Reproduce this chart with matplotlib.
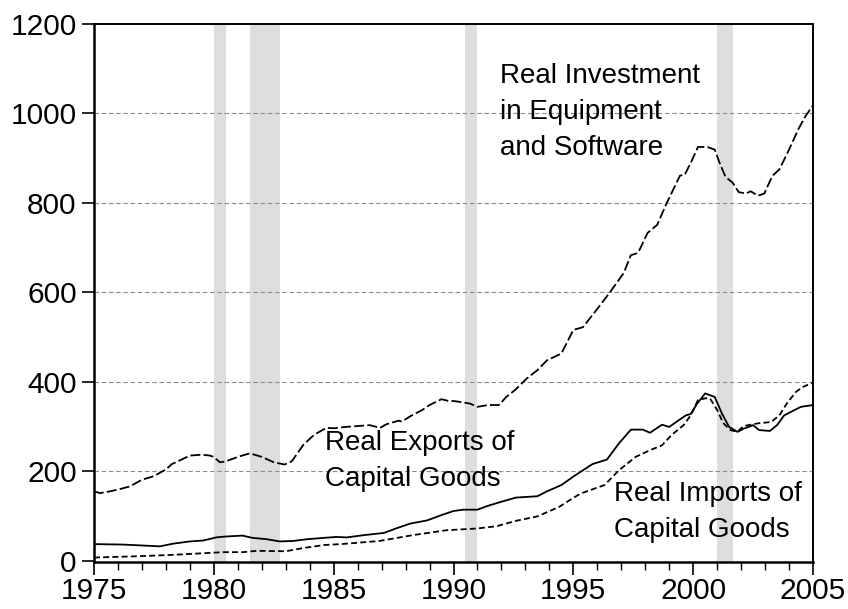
import numpy as np
import matplotlib
matplotlib.use('Agg')
import matplotlib.pyplot as plt

# ============================================================
# 数据 (从图中读取, 单位: 十亿美元)
# ============================================================
inv_year = [1975.0, 1975.25, 1975.67, 1976.0, 1976.5, 1977.0, 1977.5, 1978.0, 1978.25,
            1978.5, 1979.0, 1979.5, 1979.83, 1980.0, 1980.25, 1980.5, 1981.0, 1981.5,
            1982.0, 1982.5, 1982.95, 1983.25, 1983.75, 1984.2, 1984.7, 1985.0, 1985.5,
            1986.0, 1986.5, 1986.94, 1987.2, 1987.7, 1987.85, 1988.2, 1988.7, 1989.0,
            1989.5, 1989.8, 1990.0, 1990.4, 1990.7, 1991.0, 1991.45, 1991.9, 1992.2,
            1992.6, 1993.05, 1993.5, 1993.9, 1994.5, 1995.0, 1995.4, 1995.97, 1996.5,
            1997.1, 1997.4, 1997.7, 1998.1, 1998.5, 1998.9, 1999.45, 1999.65, 1999.93,
            2000.2, 2000.6, 2000.9, 2001.1, 2001.35, 2001.65, 2001.9, 2002.2, 2002.4,
            2002.7, 2002.97, 2003.3, 2003.6, 2004.0, 2004.4, 2004.7, 2005.0]
inv_val = [155, 151, 155, 159, 166, 181, 189, 204, 216,
           222, 235, 237, 235, 232, 220, 222, 232, 240,
           232, 220, 215, 222, 260, 282, 297, 296, 299,
           301, 303, 297, 305, 313, 311, 323, 337, 348,
           361, 357, 357, 354, 351, 344, 348, 348, 366,
           383, 407, 426, 448, 463, 516, 522, 561, 598,
           643, 683, 688, 733, 751, 800, 861, 863, 893,
           925, 925, 919, 890, 858, 845, 824, 821, 826,
           816, 821, 860, 875, 919, 966, 995, 1018]

exp_year = [1975.0, 1976.2, 1977.75, 1978.3, 1979.0, 1979.55, 1980.1, 1980.5, 1981.2,
            1981.6, 1982.2, 1982.76, 1983.3, 1983.9, 1984.6, 1985.1, 1985.55, 1986.25,
            1987.1, 1987.6, 1988.2, 1988.9, 1989.45, 1990.0, 1990.4, 1991.0, 1991.4,
            1991.95, 1992.6, 1993.5, 1993.9, 1994.5, 1995.0, 1995.4, 1995.8, 1996.4,
            1996.9, 1997.4, 1997.9, 1998.2, 1998.7, 1999.0, 1999.45, 1999.7, 1999.9,
            2000.15, 2000.5, 2000.9, 2001.2, 2001.5, 2001.85, 2002.1, 2002.5, 2002.75,
            2003.2, 2003.5, 2003.8, 2004.2, 2004.5, 2005.0]
exp_val = [37, 36, 32, 38, 43, 45, 52, 54, 56,
           51, 48, 43, 44, 48, 51, 53, 52, 57,
           62, 72, 83, 90, 101, 111, 114, 114, 122,
           131, 141, 144, 155, 169, 188, 202, 216, 226,
           262, 293, 293, 286, 304, 299, 316, 325, 328,
           350, 374, 366, 329, 299, 288, 295, 303, 292,
           290, 303, 325, 336, 344, 348]

imp_year = [1975.0, 1976.9, 1978.3, 1979.7, 1980.4, 1981.2, 1981.8, 1983.0, 1983.7,
            1984.6, 1985.3, 1986.9, 1988.3, 1989.7, 1991.0, 1991.8, 1992.6, 1993.5,
            1994.4, 1994.9, 1995.3, 1996.3, 1996.9, 1997.6, 1998.2, 1998.7, 1999.1,
            1999.6, 1999.9, 2000.2, 2000.5, 2000.7, 2001.0, 2001.25, 2001.55, 2001.85,
            2002.1, 2002.7, 2003.25, 2003.6, 2003.9, 2004.3, 2004.6, 2005.0]
imp_val = [7, 10, 13, 17, 19, 19, 22, 21, 28,
           35, 37, 44, 57, 68, 72, 77, 89, 99,
           120, 137, 150, 169, 202, 232, 247, 258, 281,
           303, 325, 359, 363, 363, 337, 308, 292, 288,
           301, 307, 310, 325, 351, 378, 389, 398]

# 衰退期 (阴影)
rec_start = [1980.0, 1981.5, 1990.5, 2001.0]
rec_end   = [1980.5, 1982.75, 1991.0, 2001.65]

y_ticks = [0, 200, 400, 600, 800, 1000, 1200]
x_ticks = [1975, 1980, 1985, 1990, 1995, 2000, 2005]

# ============================================================
# 绘图
# ============================================================
plt.rcParams['font.family'] = ['Liberation Sans', 'DejaVu Sans']
fig = plt.figure(figsize=(8.48, 6.09), dpi=100)
ax = fig.add_axes([94/848, 1 - 562/609, (813 - 94)/848, (562 - 24)/609])

for s, e in zip(rec_start, rec_end):
    ax.axvspan(s, e, color='#dedede', lw=0, zorder=0)

for yv in y_ticks[1:-1]:
    ax.axhline(yv, color='#8c8c8c', lw=0.8, dashes=(4, 2.5), zorder=1)

ax.plot(inv_year, inv_val, color='black', lw=1.3, dashes=(5.5, 1.8), zorder=3)
ax.plot(exp_year, exp_val, color='black', lw=1.3, zorder=3)
ax.plot(imp_year, imp_val, color='black', lw=1.3, dashes=(3.3, 1.8), zorder=3)

ax.set_xlim(1975, 2005)
ax.set_ylim(-3, 1200)
ax.set_xticks(x_ticks)
ax.set_xticks(np.arange(1975, 2006, 1), minor=True)
ax.set_yticks(y_ticks)
ax.tick_params(axis='x', which='major', direction='out', length=9, width=1.2,
               labelsize=21.5, pad=2)
ax.tick_params(axis='x', which='minor', direction='out', length=5.5, width=1.0)
ax.tick_params(axis='y', which='major', direction='out', length=8.5, width=1.2,
               labelsize=21.5, pad=4)
for side in ['left', 'bottom']:
    ax.spines[side].set_linewidth(1.8)
for side in ['top', 'right']:
    ax.spines[side].set_linewidth(1.4)

fs = 20
ax.text(1991.94, 1113, 'Real Investment\nin Equipment\nand Software', fontsize=fs,
        ha='left', va='top', linespacing=1.5, zorder=4)
ax.text(1984.64, 292, 'Real Exports of\nCapital Goods', fontsize=fs,
        ha='left', va='top', linespacing=1.5, zorder=4)
ax.text(1996.7, 178, 'Real Imports of\nCapital Goods', fontsize=fs,
        ha='left', va='top', linespacing=1.5, zorder=4)

plt.savefig('out.png', dpi=100)
plt.close()
